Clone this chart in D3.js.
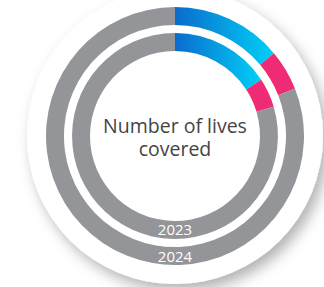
<!DOCTYPE html>
<html>
<head>
<meta charset="utf-8">
<script src="https://cdn.jsdelivr.net/npm/d3@7/dist/d3.min.js"></script>
<style>
  html, body { margin: 0; padding: 0; background: #fff; }
  svg { display: block; }
</style>
</head>
<body>
<div id="chart"></div>
<script>
// --- data (shares of the full ring) ---
const years = ['2023', '2024'];
const segments = ['main', 'other', 'rest'];
const values2023 = [15.8, 4.6, 79.6];
const values2024 = [13.9, 5.1, 81.0];
const centerTitle = ['Number of lives', 'covered'];

const W = 324, H = 287;
const cx = 175, cy = 136;

const svg = d3.select('#chart').append('svg')
  .attr('width', W).attr('height', H);

const defs = svg.append('defs');
const sh = defs.append('filter').attr('id', 'disc-shadow')
  .attr('x', '-30%').attr('y', '-30%').attr('width', '160%').attr('height', '160%');
sh.append('feDropShadow')
  .attr('dx', 5).attr('dy', 7).attr('stdDeviation', 7)
  .attr('flood-color', '#000').attr('flood-opacity', 0.3);

// gradient runs left -> right across each blue arc
const grad = defs.append('linearGradient').attr('id', 'blue-grad')
  .attr('x1', '0').attr('y1', '0').attr('x2', '1').attr('y2', '0');
grad.append('stop').attr('offset', '0%').attr('stop-color', '#0b6bcd');
grad.append('stop').attr('offset', '100%').attr('stop-color', '#00d0f6');

const color = d3.scaleOrdinal()
  .domain(segments)
  .range(['url(#blue-grad)', '#ee2b74', '#939598']);

// ring radii from a band scale: inner ring = 2023, outer ring = 2024
const ring = d3.scaleBand().domain(years).range([85, 129]).paddingInner(0.31);

const g = svg.append('g').attr('transform', `translate(${cx},${cy})`);

// white backing disc with soft shadow
g.append('circle').attr('r', 148).attr('fill', '#fff')
  .attr('filter', 'url(#disc-shadow)');

const pie = d3.pie().sort(null).value((d) => d);
const series = { '2023': values2023, '2024': values2024 };

years.forEach((yr) => {
  const arc = d3.arc()
    .innerRadius(ring(yr))
    .outerRadius(ring(yr) + ring.bandwidth());
  g.append('g').attr('class', 'ring-' + yr)
    .selectAll('path')
    .data(pie(series[yr]))
    .join('path')
    .attr('d', arc)
    .attr('fill', (d, i) => color(segments[i]));

  // year label on the bottom of its ring
  g.append('text')
    .attr('x', 0)
    .attr('y', ring(yr) + ring.bandwidth() / 2 + 5.5)
    .attr('text-anchor', 'middle')
    .attr('font-family', '"Open Sans", sans-serif')
    .attr('font-size', 15)
    .attr('fill', '#fff')
    .text(yr);
});

// centre title
g.append('text')
  .attr('text-anchor', 'middle')
  .attr('font-family', '"Open Sans", sans-serif')
  .attr('font-size', 19.5)
  .attr('fill', '#444')
  .selectAll('tspan')
  .data(centerTitle)
  .join('tspan')
  .attr('x', 0)
  .attr('y', (d, i) => -3 + i * 23)
  .text((d) => d);
</script>
</body>
</html>
